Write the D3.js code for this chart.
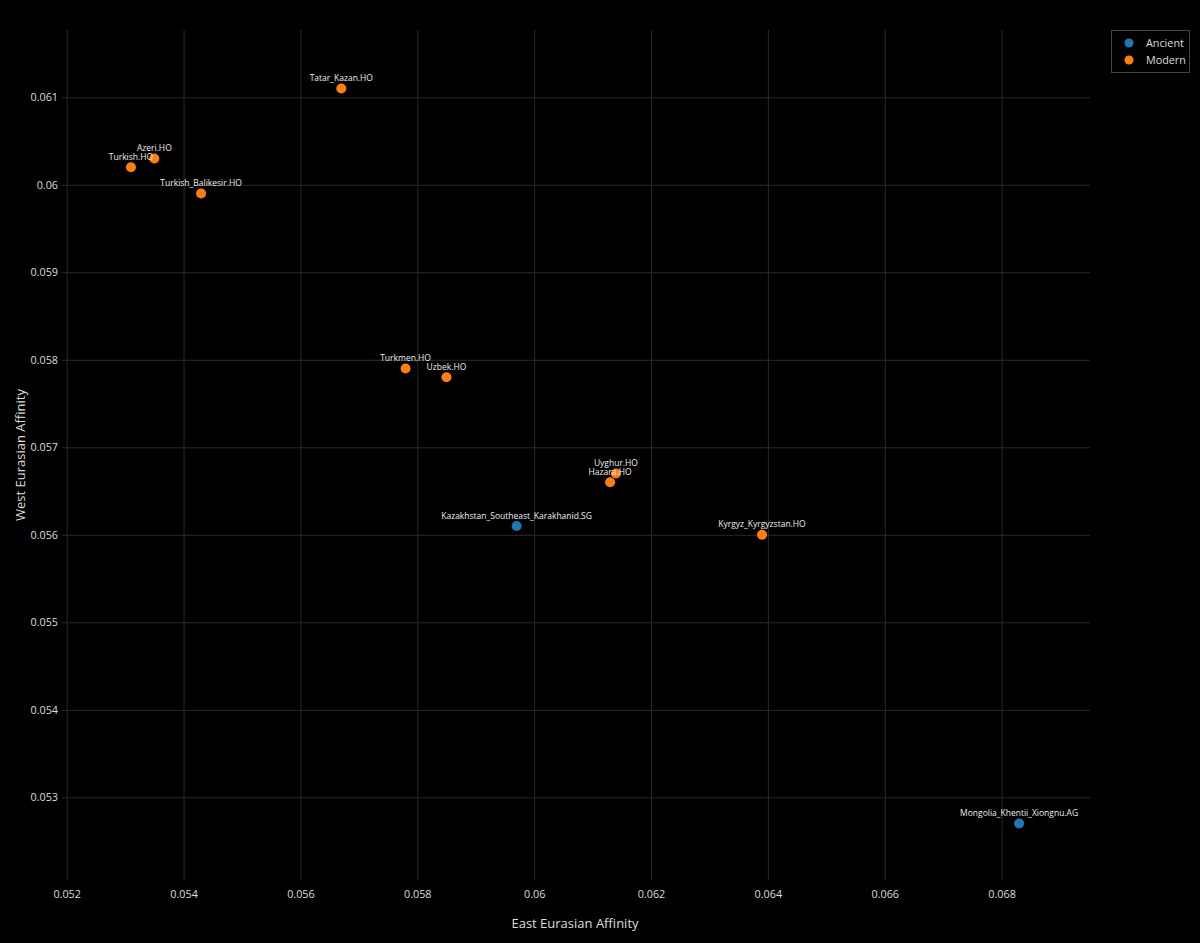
<!DOCTYPE html>
<html>
<head>
<meta charset="utf-8">
<script src="https://cdn.jsdelivr.net/npm/d3@7"></script>
<style>
  html, body { margin: 0; padding: 0; background: #000; }
  svg { display: block; }
  text { font-family: "Open Sans", verdana, arial, sans-serif; }
</style>
</head>
<body>
<svg id="chart" width="1200" height="943"></svg>
<script>
// ---- Data ----
const names = [
  "Tatar_Kazan.HO", "Azeri.HO", "Turkish.HO", "Turkish_Balikesir.HO",
  "Turkmen.HO", "Uzbek.HO", "Uyghur.HO", "Hazara.HO",
  "Kazakhstan_Southeast_Karakhanid.SG", "Kyrgyz_Kyrgyzstan.HO",
  "Mongolia_Khentii_Xiongnu.AG"
];
const groups = [
  "Modern", "Modern", "Modern", "Modern",
  "Modern", "Modern", "Modern", "Modern",
  "Ancient", "Modern",
  "Ancient"
];
const eastValues = [0.0567, 0.0535, 0.0531, 0.0543, 0.0578, 0.0585, 0.0614, 0.0613, 0.0597, 0.0639, 0.0683];
const westValues = [0.0611, 0.0603, 0.0602, 0.0599, 0.0579, 0.0578, 0.0567, 0.0566, 0.0561, 0.0560, 0.0527];
const xTicks = [0.052, 0.054, 0.056, 0.058, 0.060, 0.062, 0.064, 0.066, 0.068];
const yTicks = [0.053, 0.054, 0.055, 0.056, 0.057, 0.058, 0.059, 0.060, 0.061];
const legendGroups = ["Ancient", "Modern"];
const groupColors = ["#1f77b4", "#ff7f0e"];

const svg = d3.select("#chart");
const plot = { left: 62, right: 1090, top: 30, bottom: 880 };

const x = d3.scaleLinear().domain([0.05192, 0.069513]).range([plot.left, plot.right]);
const y = d3.scaleLinear().domain([0.052055, 0.061769]).range([plot.bottom, plot.top]);
const color = d3.scaleOrdinal().domain(legendGroups).range(groupColors);

const fmt = d => d3.format("~g")(+d.toFixed(3));

// Grid
const gx = svg.append("g")
  .attr("transform", `translate(0,${plot.bottom})`)
  .call(d3.axisBottom(x).tickValues(xTicks).tickSize(-(plot.bottom - plot.top)).tickPadding(10).tickFormat(fmt));
gx.select(".domain").remove();
gx.selectAll("line").attr("stroke", "#2a2a2a").attr("stroke-width", 1);
gx.selectAll("text").attr("fill", "#dddddd").attr("font-size", 10.8).attr("dy", "0.71em");

const gy = svg.append("g")
  .attr("transform", `translate(${plot.left},0)`)
  .call(d3.axisLeft(y).tickValues(yTicks).tickSize(-(plot.right - plot.left)).tickPadding(4).tickFormat(fmt));
gy.select(".domain").remove();
gy.selectAll("line").attr("stroke", "#2a2a2a").attr("stroke-width", 1);
gy.selectAll("text").attr("fill", "#dddddd").attr("font-size", 10.8);

// Axis titles
svg.append("text")
  .attr("x", 575)
  .attr("y", 928)
  .attr("text-anchor", "middle")
  .attr("fill", "#dddddd")
  .attr("font-size", 13)
  .text("East Eurasian Affinity");

svg.append("text")
  .attr("transform", `translate(25,${(plot.top + plot.bottom) / 2}) rotate(-90)`)
  .attr("text-anchor", "middle")
  .attr("fill", "#dddddd")
  .attr("font-size", 13)
  .text("West Eurasian Affinity");

// Points
const data = names.map((n, i) => ({ name: n, group: groups[i], ex: eastValues[i], wy: westValues[i] }));

const pts = svg.append("g");
legendGroups.forEach(g => {
  const sub = data.filter(d => d.group === g);
  pts.selectAll(null).data(sub).enter().append("circle")
    .attr("cx", d => x(d.ex))
    .attr("cy", d => y(d.wy))
    .attr("r", 5)
    .attr("fill", color(g));
});
legendGroups.forEach(g => {
  const sub = data.filter(d => d.group === g);
  pts.selectAll(null).data(sub).enter().append("text")
    .attr("x", d => x(d.ex))
    .attr("y", d => y(d.wy) - 7.5)
    .attr("text-anchor", "middle")
    .attr("fill", "#eeeeee")
    .attr("font-size", 8.5)
    .text(d => d.name);
});

// Legend
const lg = svg.append("g").attr("transform", "translate(1111,30)");
lg.append("rect")
  .attr("x", 0.5).attr("y", 0.5)
  .attr("width", 78).attr("height", 42)
  .attr("fill", "#000").attr("stroke", "#444").attr("stroke-width", 1);
legendGroups.forEach((g, i) => {
  lg.append("circle").attr("cx", 18).attr("cy", 13 + i * 17).attr("r", 4.5).attr("fill", color(g));
  lg.append("text").attr("x", 35).attr("y", 13 + i * 17).attr("dy", "0.35em")
    .attr("fill", "#dddddd").attr("font-size", 10.8).text(g);
});
</script>
</body>
</html>
